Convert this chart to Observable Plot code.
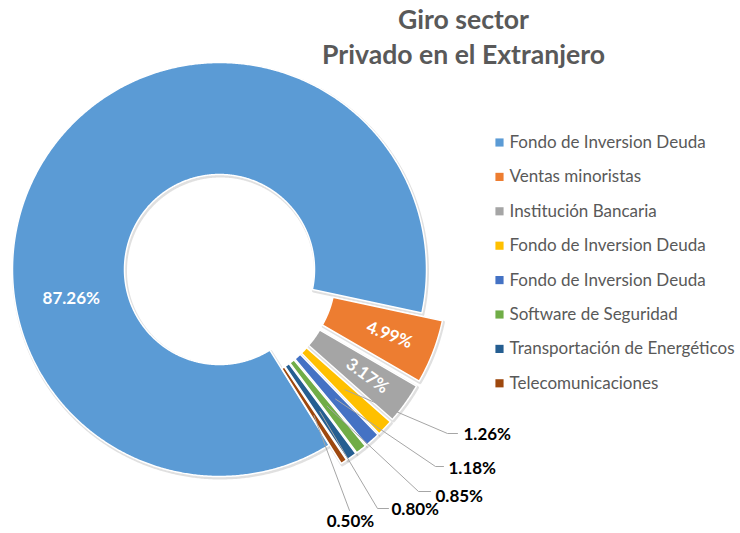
<!DOCTYPE html>
<html><head><meta charset="utf-8">
<script src="https://cdn.jsdelivr.net/npm/d3@7"></script>
<script src="https://cdn.jsdelivr.net/npm/@observablehq/plot@0.6"></script>
<style>body{margin:0;background:#fff;} #chart{width:740px;height:533px;overflow:hidden;}</style>
</head><body><div id="chart"></div>
<script>
// ---- data ----
const categories = ["Fondo de Inversion Deuda","Ventas minoristas","Institución Bancaria","Fondo de Inversion Deuda","Fondo de Inversion Deuda","Software de Seguridad","Transportación de Energéticos","Telecomunicaciones"];
const values = [87.26, 4.99, 3.17, 1.26, 1.18, 0.85, 0.80, 0.50];
const valueLabels = ["87.26%","4.99%","3.17%","1.26%","1.18%","0.85%","0.80%","0.50%"];
const titleLines = ["Giro sector","Privado en el Extranjero"];

// ---- styles / layout ----
const palette = ["#5B9BD5","#ED7D31","#A5A5A5","#FFC000","#4472C4","#70AD47","#255E91","#9E480E"];
const ids = values.map((_, i) => i);
const R = 207, r0 = 95, startDeg = 148;
const explode = [0, 22, 22, 22, 22, 22, 22, 22];
const FONT = "Lato, 'Open Sans', sans-serif";

const arcs = d3.pie().sort(null).value(d => d)
  .startAngle(startDeg * Math.PI / 180)
  .endAngle(startDeg * Math.PI / 180 + 2 * Math.PI)(values);

const geo = arcs.map((a, i) => {
  const m = (a.startAngle + a.endAngle) / 2;
  return {i, a0: a.startAngle, a1: a.endAngle, m, cx: explode[i] * Math.sin(m), cy: explode[i] * Math.cos(m)};
});

// slice polygons
const slicePts = [];
for (const g of geo) {
  const n = Math.max(2, Math.ceil((g.a1 - g.a0) / (0.4 * Math.PI / 180)));
  for (let k = 0; k <= n; k++) {
    const a = g.a0 + (g.a1 - g.a0) * k / n;
    slicePts.push({id: g.i, x: g.cx + R * Math.sin(a), y: g.cy + R * Math.cos(a)});
  }
  for (let k = n; k >= 0; k--) {
    const a = g.a0 + (g.a1 - g.a0) * k / n;
    slicePts.push({id: g.i, x: g.cx + r0 * Math.sin(a), y: g.cy + r0 * Math.cos(a)});
  }
}

// inside labels
const insideAngle0 = 259 * Math.PI / 180;
const inside = [
  {i: 0, x: 151 * Math.sin(insideAngle0), y: 151 * Math.cos(insideAngle0), rot: 0},
  ...[1, 2].map(i => {
    const g = geo[i];
    return {i, x: g.cx + 160 * Math.sin(g.m), y: g.cy + 160 * Math.cos(g.m), rot: g.m * 180 / Math.PI - 90};
  })
];

// outside labels with leader lines (elbow + text anchor positions)
const outLayout = [
  {i: 3, ex: 228, ey: -164, tx: 244, ty: -165, seg: 10},
  {i: 4, ex: 216, ey: -197, tx: 229, ty: -199, seg: 8},
  {i: 5, ex: 199, ey: -222, tx: 216, ty: -227, seg: 12},
  {i: 6, ex: 158, ey: -239, tx: 172, ty: -240, seg: 11},
  {i: 7, ex: 130, ey: -241, tx: 131, ty: -252, seg: 0}
];
const leaderPts = [];
for (const o of outLayout) {
  const g = geo[o.i];
  leaderPts.push({id: o.i, x: g.cx + 152 * Math.sin(g.m), y: g.cy + 152 * Math.cos(g.m)});
  leaderPts.push({id: o.i, x: o.ex, y: o.ey});
  if (o.seg) leaderPts.push({id: o.i, x: o.ex + o.seg, y: o.ey});
}

const legendY = i => 127 - 34.4 * i;

const chart = Plot.plot({
  width: 740, height: 533, margin: 0,
  x: {domain: [-219, 521], axis: null},
  y: {domain: [-264, 269], axis: null},
  color: {domain: ids, range: palette},
  style: {fontFamily: FONT, background: "#fff"},
  marks: [
    // soft shadow
    Plot.line(slicePts, {x: "x", y: "y", z: "id", curve: "linear-closed", fill: "none", stroke: "#000", strokeOpacity: 0.12, strokeWidth: 3, dx: 1, dy: 1.5}),
    Plot.line(slicePts, {x: "x", y: "y", z: "id", curve: "linear-closed", fill: "id", stroke: "white", strokeWidth: 1.5}),
    Plot.line(leaderPts, {x: "x", y: "y", z: "id", stroke: "#a6a6a6", strokeWidth: 1, fill: "none"}),
    Plot.text(inside, {x: "x", y: "y", text: d => valueLabels[d.i], rotate: "rot", fill: "white", fontWeight: "bold", fontSize: 17, fontFamily: FONT}),
    Plot.text(outLayout.filter(o => o.seg), {x: "tx", y: "ty", text: d => valueLabels[d.i], textAnchor: "start", fill: "#000", fontWeight: "bold", fontSize: 17, fontFamily: FONT}),
    Plot.text(outLayout.filter(o => !o.seg), {x: "tx", y: "ty", text: d => valueLabels[d.i], textAnchor: "middle", fill: "#000", fontWeight: "bold", fontSize: 17, fontFamily: FONT}),
    // legend
    Plot.dot(ids, {x: 280, y: legendY, symbol: "square", r: 4.6, fill: d => d, stroke: null}),
    Plot.text(ids, {x: 290, y: legendY, text: i => categories[i], textAnchor: "start", fill: "#595959", fontSize: 17, fontFamily: FONT}),
    // title
    Plot.text(titleLines, {x: 244, y: [241, 206], text: d => d, lineAnchor: "bottom", fill: "#595959", fontWeight: "bold", fontSize: 26.6, fontFamily: FONT})
  ]
});
document.getElementById("chart").append(chart);
</script>
</body></html>
